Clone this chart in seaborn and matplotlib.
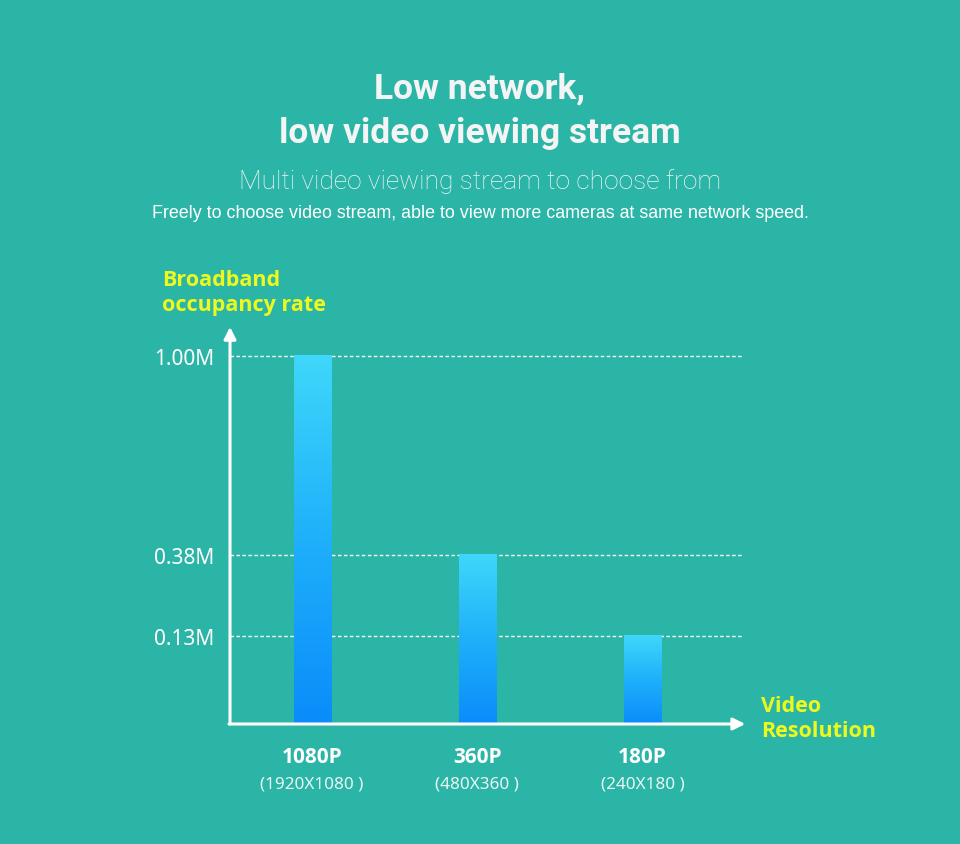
import numpy as np
import matplotlib
matplotlib.use("Agg")
import matplotlib.pyplot as plt
import seaborn as sns
from matplotlib import font_manager
from matplotlib.colors import LinearSegmentedColormap

# data
resolutions = ["1080P", "360P", "180P"]
pixel_sizes = ["(1920X1080 )", "(480X360 )", "(240X180 )"]
bandwidth = [1.00, 0.38, 0.13]
tick_values = [0.13, 0.38, 1.00]
tick_labels = ["0.13M", "0.38M", "1.00M"]

BG = "#2bb5a7"
YELLOW = "#eefa1e"

installed = {f.name for f in font_manager.fontManager.ttflist}
def pick(*names):
    for n in names:
        if n in installed:
            return n
    return "DejaVu Sans"

title_font = pick("Liberation Sans Narrow", "Roboto", "Liberation Sans")
body_font = pick("Liberation Sans", "Roboto")
label_font = pick("Noto Sans", "Open Sans")
bold_font = pick("Open Sans", "Lato", "Roboto")

sns.set_theme(style="white")
plt.rcParams["font.family"] = [label_font, "DejaVu Sans"]

fig = plt.figure(figsize=(9.6, 8.45), dpi=100, facecolor=BG)
ax = fig.add_axes([0.2396, 0.142, 0.533, 0.470])
ax.set_facecolor(BG)

sns.barplot(x=resolutions, y=bandwidth, width=0.224, color="#1fb0fa",
            saturation=1, ax=ax)

# the y axis of the original is not linear: piecewise scale through tick values
scale_v = [0.0, 0.13, 0.38, 1.00, 1.5]
scale_p = [0.0, 88.0, 169.0, 368.0, 528.0]
def fwd(y):
    return np.interp(y, scale_v, scale_p)
def inv(p):
    return np.interp(p, scale_p, scale_v)
ax.set_yscale("function", functions=(fwd, inv))

XLIM = (-0.497, 2.6)
YLIM = (0, 1.09)
ax.set_xlim(*XLIM)
ax.set_ylim(*YLIM)

for s in ax.spines.values():
    s.set_visible(False)

ax.set_yticks(tick_values)
ax.set_yticklabels(tick_labels)
ax.tick_params(axis="y", length=0, pad=11, labelsize=15, labelcolor="white")
ax.set_xticks([])
ax.set_xlabel("")
ax.set_ylabel("")
for lbl in ax.get_yticklabels():
    lbl.set_fontweight("light")

for v in tick_values:
    ax.axhline(v, color="white", lw=1, ls=(0, (2.5, 1.8)), zorder=1)

# gradient fill on bars
cmap = LinearSegmentedColormap.from_list("bar", ["#0a8cfa", "#1fb0fa", "#3fd7fa"])
fig.canvas.draw()
grad = np.linspace(0, 1, 256).reshape(-1, 1)
for p in list(ax.patches):
    bb = p.get_window_extent().transformed(ax.transAxes.inverted())
    ax.imshow(grad, extent=[bb.x0, bb.x1, bb.y0, bb.y1], transform=ax.transAxes,
              origin="lower", aspect="auto", cmap=cmap, zorder=3)
    p.set_visible(False)
ax.set_xlim(*XLIM)
ax.set_ylim(*YLIM)

# arrow axes
ax.annotate("", xy=(0, 1.0), xytext=(0, 0), xycoords="axes fraction",
            arrowprops=dict(arrowstyle="-|>", color="white", lw=2.2,
                            mutation_scale=18, shrinkA=0, shrinkB=0))
ax.annotate("", xy=(1.007, 0), xytext=(-0.002, 0), xycoords="axes fraction",
            arrowprops=dict(arrowstyle="-|>", color="white", lw=2.2,
                            mutation_scale=18, shrinkA=0, shrinkB=0))

# category labels
tr = ax.get_xaxis_transform()
for i, (r, s) in enumerate(zip(resolutions, pixel_sizes)):
    ax.text(i, -0.081, r, transform=tr, ha="center", va="center",
            fontsize=15, fontweight="bold", color="white", family=bold_font)
    ax.text(i, -0.149, s, transform=tr, ha="center", va="center",
            fontsize=12.3, color="#e8f6f4")

def fx(x):
    return x / 960
def fy(y):
    return 1 - y / 845

for txt, x, y in [("Broadband", 162, 281), ("occupancy rate", 162, 306),
                  ("Video", 761, 707), ("Resolution", 761, 732)]:
    fig.text(fx(x), fy(y), txt, ha="left", va="center", fontsize=15.5,
             fontweight="bold", color=YELLOW, family=bold_font)

# titles
fig.text(0.5, fy(89), "Low network,", ha="center", va="center",
         fontsize=25.5, fontweight="bold", color="#f4f4f4", family=title_font)
fig.text(0.5, fy(133), "low video viewing stream", ha="center", va="center",
         fontsize=25.5, fontweight="bold", color="#f4f4f4", family=title_font)
fig.text(0.5, fy(182), "Multi video viewing stream to choose from",
         ha="center", va="center", fontsize=19, fontweight="light",
         color="#f4f4f4", family=title_font)
fig.text(0.5, fy(214),
         "Freely to choose video stream, able to view more cameras at same network speed.",
         ha="center", va="center", fontsize=12.9, color="white", family=body_font)

fig.savefig("out.png", dpi=100, facecolor=BG)
